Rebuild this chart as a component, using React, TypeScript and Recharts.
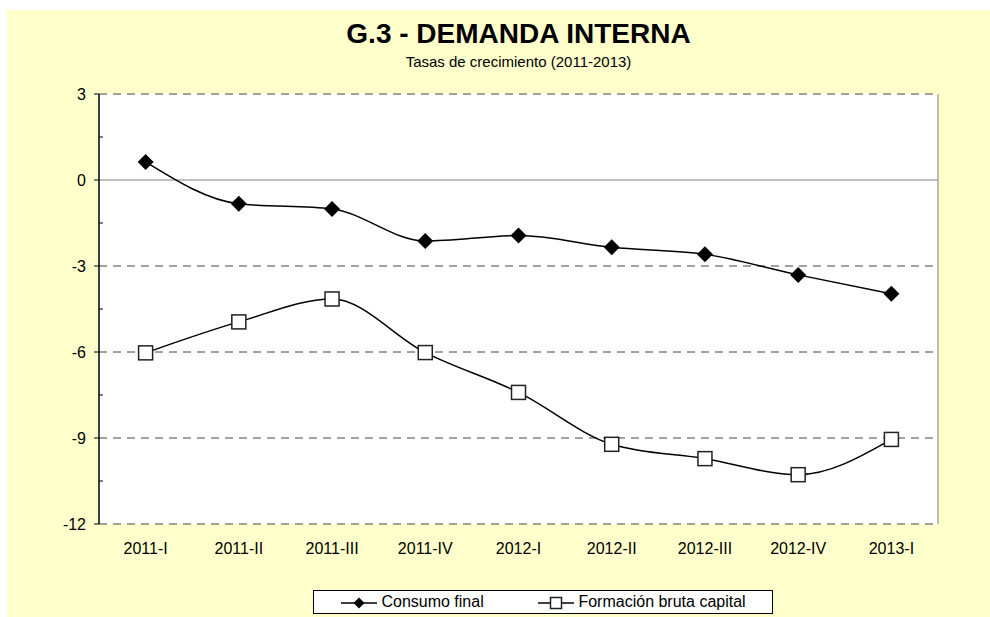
import { CartesianGrid, Line, LineChart, ReferenceLine, XAxis, YAxis } from "recharts";

const quarters = ["2011-I", "2011-II", "2011-III", "2011-IV", "2012-I", "2012-II", "2012-III", "2012-IV", "2013-I"];
const consumoFinal = [0.63, -0.83, -1.01, -2.13, -1.94, -2.35, -2.59, -3.31, -3.97];
const formacionBruta = [-6.03, -4.95, -4.15, -6.02, -7.41, -9.22, -9.72, -10.28, -9.05];
const yTicks = [3, 1.5, 0, -1.5, -3, -4.5, -6, -7.5, -9, -10.5, -12];
const dashedLevels = [3, -3, -6, -9, -12];

const data = quarters.map((quarter, i) => ({
  quarter,
  consumo: consumoFinal[i],
  formacion: formacionBruta[i],
}));

const font = '"Liberation Sans", Arial, sans-serif';

function YTick({ x, y, payload }: any) {
  const axisX = x + 13;
  const major = payload.value % 3 === 0;
  if (!major) {
    return <line x1={axisX} x2={axisX + 4} y1={y} y2={y} stroke="#000" />;
  }
  return (
    <g>
      <line x1={axisX - 5} x2={axisX} y1={y} y2={y} stroke="#000" />
      <text x={x} y={y} dy="0.35em" textAnchor="end" fontSize={16} fill="#000" fontFamily={font}>
        {payload.value}
      </text>
    </g>
  );
}

function Diamond({ cx, cy }: any) {
  if (cx == null || cy == null) return null;
  return <path d={`M${cx},${cy - 8}L${cx + 8},${cy}L${cx},${cy + 8}L${cx - 8},${cy}Z`} fill="#000" />;
}

function Square({ cx, cy }: any) {
  if (cx == null || cy == null) return null;
  return <rect x={cx - 7} y={cy - 7} width={14} height={14} fill="#fff" stroke="#222" strokeWidth={1.5} />;
}

function LegendMark({ shape }: { shape: "diamond" | "square" }) {
  return (
    <svg width={36} height={14} style={{ verticalAlign: "middle" }}>
      <line x1={0} x2={36} y1={7} y2={7} stroke="#000" strokeWidth={1.5} />
      {shape === "diamond" ? (
        <path d="M18,1.5L23.5,7L18,12.5L12.5,7Z" fill="#000" />
      ) : (
        <rect x={12.5} y={1.5} width={11} height={11} fill="#fff" stroke="#222" strokeWidth={1.5} />
      )}
    </svg>
  );
}

export default function App() {
  return (
    <div
      style={{
        position: "absolute",
        left: 7,
        top: 10,
        width: 983,
        height: 607,
        background: "#FFFFCC",
        fontFamily: font,
      }}
    >
      <div style={{ position: "absolute", left: 92, width: 839, top: 8, textAlign: "center", fontSize: 28, fontWeight: "bold", lineHeight: "32px" }}>
        G.3 - DEMANDA INTERNA
      </div>
      <div style={{ position: "absolute", left: 92, width: 839, top: 43, textAlign: "center", fontSize: 15, lineHeight: "18px" }}>
        Tasas de crecimiento (2011-2013)
      </div>
      <LineChart width={983} height={607} data={data} margin={{ top: 84, right: 52, left: 0, bottom: 63 }}>
        <CartesianGrid fill="#fff" vertical={false} horizontalValues={dashedLevels} stroke="#444" strokeDasharray="8 6" />
        <CartesianGrid
          horizontal={false}
          verticalCoordinatesGenerator={({ offset }: any) => [offset.left + offset.width]}
          stroke="#808080"
        />
        <ReferenceLine y={0} stroke="#808080" />
        <XAxis
          dataKey="quarter"
          axisLine={false}
          tickLine={false}
          tickSize={0}
          tickMargin={19}
          height={30}
          padding={{ left: 46.6, right: 46.6 }}
          tick={{ fontSize: 16, fill: "#000", fontFamily: font }}
        />
        <YAxis
          domain={[-12, 3]}
          ticks={yTicks}
          interval={0}
          width={92}
          tickSize={5}
          tickMargin={8}
          tickLine={false}
          axisLine={{ stroke: "#000", strokeWidth: 1.5 }}
          tick={<YTick />}
        />
        <Line
          dataKey="consumo"
          type="monotone"
          stroke="#000"
          strokeWidth={1.5}
          dot={<Diamond />}
          isAnimationActive={false}
        />
        <Line
          dataKey="formacion"
          type="monotone"
          stroke="#000"
          strokeWidth={1.5}
          dot={<Square />}
          isAnimationActive={false}
        />
      </LineChart>
      <div
        style={{
          position: "absolute",
          left: 306,
          top: 580,
          width: 458,
          height: 22,
          background: "#fff",
          border: "1px solid #000",
          fontSize: 16,
          lineHeight: "22px",
          whiteSpace: "nowrap",
        }}
      >
        <span style={{ position: "absolute", left: 27 }}>
          <LegendMark shape="diamond" /> Consumo final
        </span>
        <span style={{ position: "absolute", left: 224 }}>
          <LegendMark shape="square" /> Formación bruta capital
        </span>
      </div>
    </div>
  );
}
